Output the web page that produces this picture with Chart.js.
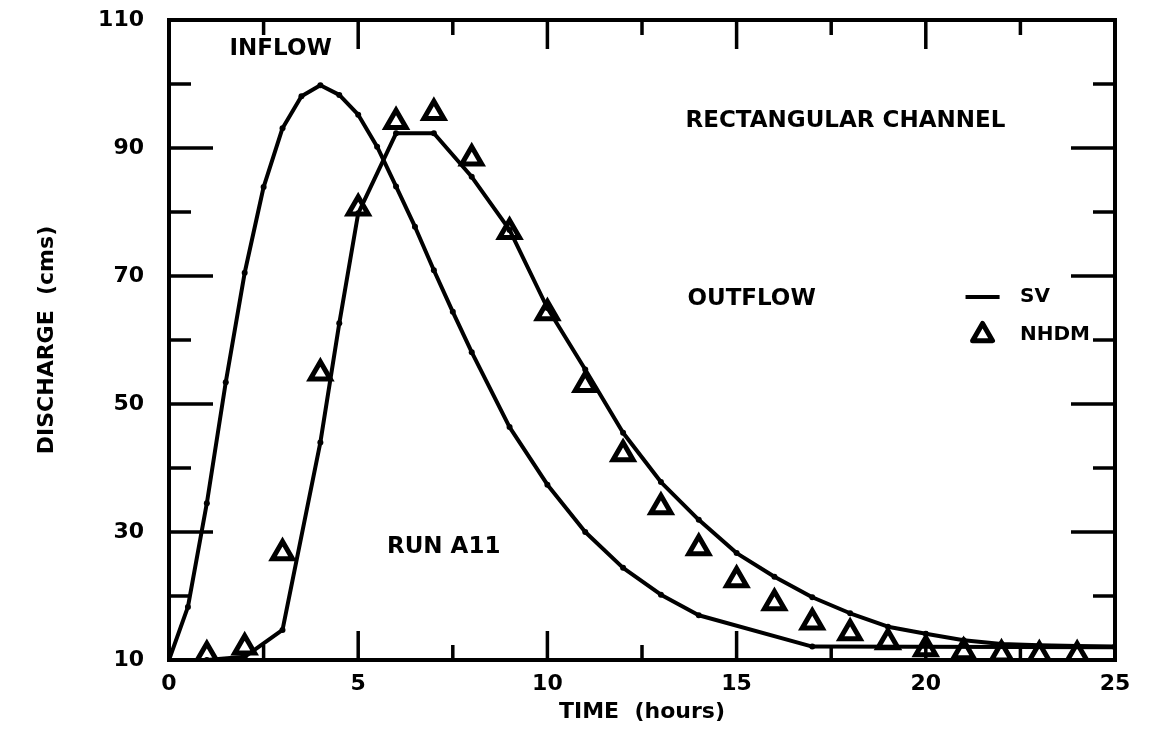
<!DOCTYPE html>
<html>
<head>
<meta charset="utf-8">
<title>Run A11 - rectangular channel</title>
<script src="https://cdn.jsdelivr.net/npm/chart.js@4.4.1/dist/chart.umd.min.js"></script>
<style>
  html, body { margin: 0; padding: 0; background: #fff; }
  #wrap { width: 1149px; height: 730px; position: relative; }
</style>
</head>
<body>
<div id="wrap"><canvas id="routingChart"></canvas></div>
<script>
// Inflow hydrograph (SV), hours / cms
const inflowTime = [0, 0.5, 1, 1.5, 2, 2.5, 3, 3.5, 4, 4.5, 5, 5.5, 6, 6.5, 7, 7.5, 8, 9, 10, 11, 12, 13, 14, 17, 25];
const inflowQ = [10, 18.3, 34.5, 53.4, 70.5, 83.9, 93.1, 98.1, 99.8, 98.3, 95.2, 90.2, 84, 77.7, 70.9, 64.4, 58.1, 46.4, 37.4, 30.0, 24.4, 20.2, 17.0, 12.1, 12.0];

// Outflow hydrograph (SV)
const outflowTime = [0, 1, 2, 3, 4, 4.5, 5, 6, 7, 8, 9, 10, 11, 12, 13, 14, 15, 16, 17, 18, 19, 20, 21, 22, 23, 24, 25];
const outflowQ = [10, 10, 10.5, 14.7, 44, 62.6, 79.8, 92.3, 92.3, 85.5, 77.2, 65.0, 55.4, 45.5, 37.8, 31.9, 26.7, 23.0, 19.8, 17.3, 15.2, 14.1, 13.1, 12.5, 12.3, 12.2, 12.1];

// Outflow computed with NHDM
const nhdmTime = [1, 2, 3, 4, 5, 6, 7, 8, 9, 10, 11, 12, 13, 14, 15, 16, 17, 18, 19, 20, 21, 22, 23, 24];
const nhdmQ = [10.8, 12.0, 26.7, 54.8, 80.6, 94.1, 95.5, 88.4, 76.9, 64.2, 53.0, 42.2, 33.9, 27.5, 22.5, 18.9, 15.9, 14.2, 12.8, 11.7, 11.25, 10.9, 10.8, 10.8];

// Axis ticks
const xTickLabels = [0, 5, 10, 15, 20, 25];
const xMinorTicks = [2.5, 7.5, 12.5, 17.5, 22.5];
const yTickLabels = [10, 30, 50, 70, 90, 110];
const yMinorTicks = [20, 40, 60, 80, 100];

const FONT = "'DejaVu Sans', sans-serif";

function toPoints( xs, ys ) {
    return xs.map( ( x, i ) => ( { x: x, y: ys[i] } ) );
}

// Frame, inward ticks, legend and notes
const framePlugin = {
    id: "frame",
    afterDatasetsDraw( chart ) {
        const ctx = chart.ctx;
        const { left, right, top, bottom } = chart.chartArea;
        const xs = chart.scales.x;
        const ys = chart.scales.y;

        ctx.save();
        ctx.strokeStyle = "#000";
        ctx.fillStyle = "#000";
        ctx.lineWidth = 4;
        ctx.lineCap = "butt";
        ctx.strokeRect( left, top, right - left, bottom - top );

        ctx.lineWidth = 3.5;
        function vTick( v, len ) {
            const px = xs.getPixelForValue( v );
            ctx.beginPath();
            ctx.moveTo( px, bottom );
            ctx.lineTo( px, bottom - len );
            ctx.moveTo( px, top );
            ctx.lineTo( px, top + len );
            ctx.stroke();
        }
        function hTick( v, len ) {
            const py = ys.getPixelForValue( v );
            ctx.beginPath();
            ctx.moveTo( left, py );
            ctx.lineTo( left + len, py );
            ctx.moveTo( right, py );
            ctx.lineTo( right - len, py );
            ctx.stroke();
        }
        xTickLabels.slice( 1, -1 ).forEach( v => vTick( v, 29 ) );
        xMinorTicks.forEach( v => vTick( v, 15 ) );
        yTickLabels.slice( 1, -1 ).forEach( v => hTick( v, 44 ) );
        yMinorTicks.forEach( v => hTick( v, 22 ) );

        // text notes inside the plot
        ctx.font = "bold 23px " + FONT;
        ctx.textBaseline = "middle";
        ctx.textAlign = "left";
        ctx.fillText( "INFLOW", xs.getPixelForValue( 1.6 ), ys.getPixelForValue( 105.5 ) );
        ctx.fillText( "RECTANGULAR CHANNEL", xs.getPixelForValue( 13.65 ), ys.getPixelForValue( 94.2 ) );
        ctx.fillText( "OUTFLOW", xs.getPixelForValue( 13.7 ), ys.getPixelForValue( 66.4 ) );
        ctx.fillText( "RUN A11", xs.getPixelForValue( 5.76 ), ys.getPixelForValue( 27.7 ) );

        // legend
        const lx0 = xs.getPixelForValue( 21.05 );
        const lx1 = xs.getPixelForValue( 21.95 );
        const ly1 = ys.getPixelForValue( 66.7 );
        const ly2 = ys.getPixelForValue( 60.8 );
        ctx.lineWidth = 4;
        ctx.beginPath();
        ctx.moveTo( lx0, ly1 );
        ctx.lineTo( lx1, ly1 );
        ctx.stroke();

        const r = 11.5;
        const cx = ( lx0 + lx1 ) / 2;
        ctx.lineWidth = 5;
        ctx.lineJoin = "round";
        ctx.beginPath();
        ctx.moveTo( cx, ly2 - r );
        ctx.lineTo( cx + r * Math.sin( Math.PI / 3 ), ly2 + r / 2 );
        ctx.lineTo( cx - r * Math.sin( Math.PI / 3 ), ly2 + r / 2 );
        ctx.closePath();
        ctx.stroke();

        ctx.font = "bold 20px " + FONT;
        const tx = xs.getPixelForValue( 22.49 );
        ctx.fillText( "SV", tx, ly1 );
        ctx.fillText( "NHDM", tx, ly2 );
        ctx.restore();
    }
};

const lineStyle = {
    borderColor: "#000",
    backgroundColor: "#000",
    borderWidth: 4,
    pointRadius: 3,
    pointBorderWidth: 0,
    pointHoverRadius: 3,
    borderJoinStyle: "round",
    tension: 0,
    fill: false
};

const ctx = document.getElementById( "routingChart" ).getContext( "2d" );
new Chart( ctx, {
    type: "line",
    data: {
        datasets: [
            Object.assign( { label: "SV inflow", data: toPoints( inflowTime, inflowQ ) }, lineStyle ),
            Object.assign( { label: "SV outflow", data: toPoints( outflowTime, outflowQ ) }, lineStyle ),
            {
                label: "NHDM",
                data: toPoints( nhdmTime, nhdmQ ),
                showLine: false,
                pointStyle: "triangle",
                pointRadius: 11.5,
                pointHoverRadius: 11.5,
                pointBorderWidth: 5,
                pointBorderColor: "#000",
                pointBackgroundColor: "rgba(255,255,255,0)"
            }
        ]
    },
    options: {
        responsive: true,
        maintainAspectRatio: false,
        animation: false,
        events: [],
        layout: { padding: { top: 20, right: 34, bottom: 0, left: 0 } },
        plugins: {
            legend: { display: false },
            tooltip: { enabled: false }
        },
        scales: {
            x: {
                type: "linear",
                min: 0,
                max: 25,
                afterBuildTicks: scale => {
                    scale.ticks = xTickLabels.map( v => ( { value: v } ) );
                },
                afterFit: scale => {
                    scale.height = 70;
                    scale.paddingLeft = 0;
                    scale.paddingRight = 0;
                },
                grid: { display: false, drawTicks: false },
                border: { display: false },
                ticks: {
                    color: "#000",
                    padding: 11,
                    maxRotation: 0,
                    font: { family: FONT, size: 22, weight: "bold" }
                },
                title: {
                    display: true,
                    text: "TIME  (hours)",
                    color: "#000",
                    padding: { top: 0, bottom: 5 },
                    font: { family: FONT, size: 22, weight: "bold" }
                }
            },
            y: {
                type: "linear",
                min: 10,
                max: 110,
                afterBuildTicks: scale => {
                    scale.ticks = yTickLabels.map( v => ( { value: v } ) );
                },
                afterFit: scale => {
                    scale.width = 169;
                    scale.paddingTop = 0;
                    scale.paddingBottom = 0;
                },
                grid: { display: false, drawTicks: false },
                border: { display: false },
                ticks: {
                    color: "#000",
                    padding: 25,
                    font: { family: FONT, size: 22, weight: "bold" }
                },
                title: {
                    display: true,
                    text: "DISCHARGE  (cms)",
                    color: "#000",
                    padding: { top: 34, bottom: 0 },
                    font: { family: FONT, size: 22, weight: "bold" }
                }
            }
        }
    },
    plugins: [framePlugin]
} );
</script>
</body>
</html>
